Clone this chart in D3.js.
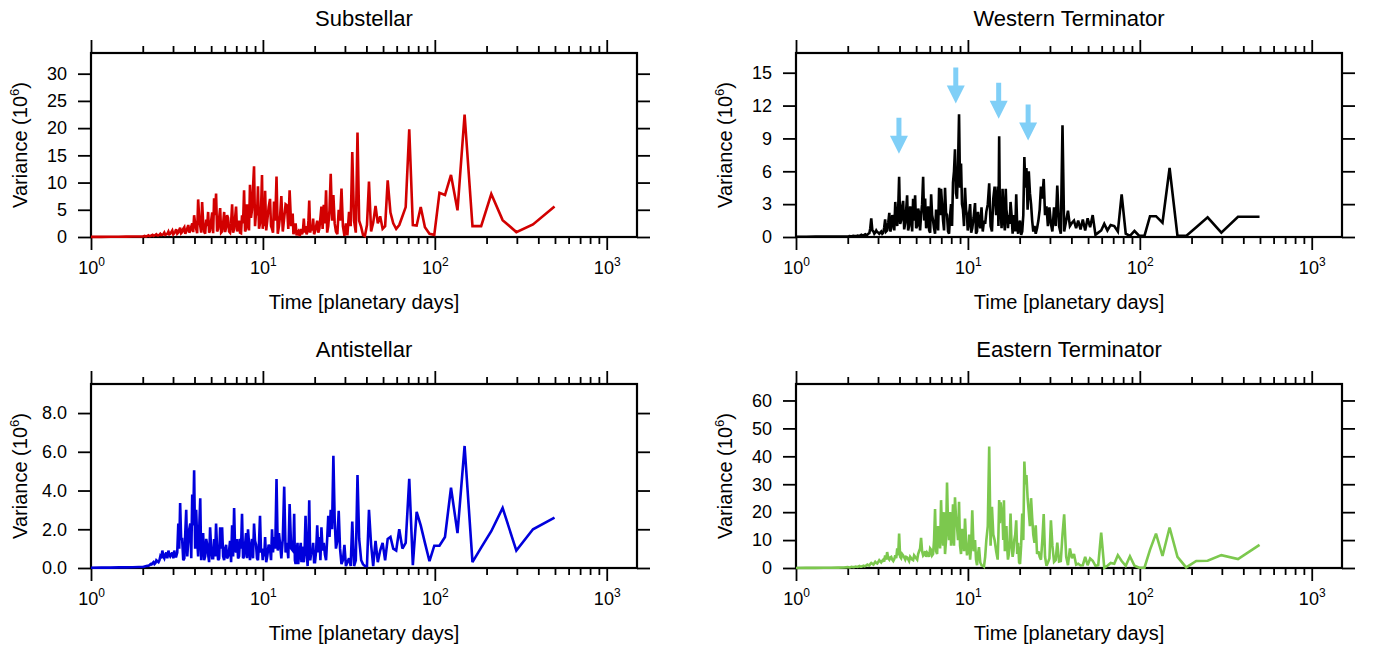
<!DOCTYPE html>
<html>
<head>
<meta charset="utf-8">
<script src="https://cdn.jsdelivr.net/npm/d3@7"></script>
<style>
  body { margin: 0; background: #fff; }
  svg { display: block; font-family: "Liberation Sans", Arial, Helvetica, sans-serif; }
</style>
</head>
<body>
<div id="chart"></div>
<script>
const svgWidth = 1374;
const svgHeight = 652;
const plotWidth = 546;
const plotHeight = 184;
const xDomain = [1, 1500];
const majorTick = 13;
const minorTick = 7;

// Period of each spectral estimate [planetary days], shared by all four panels
const periods = [
  1.0, 1.15, 1.3, 1.45, 1.6, 1.75, 1.9,
  2.00, 2.05, 2.10, 2.16, 2.22, 2.28, 2.34, 2.40, 2.47, 2.53,
  2.60, 2.67, 2.74, 2.82, 2.89, 2.97, 3.05, 3.13, 3.22, 3.30,
  3.39, 3.49, 3.58, 3.68, 3.78, 3.88, 3.98, 4.09, 4.20, 4.32,
  4.43, 4.55, 4.68, 4.80, 4.93, 5.07, 5.20, 5.34, 5.49, 5.64,
  5.79, 5.95, 6.11, 6.27, 6.44, 6.62, 6.80, 6.98, 7.17, 7.36,
  7.56, 7.77, 7.98, 8.19, 8.41, 8.64, 8.88, 9.12, 9.36, 9.62,
  9.88, 10.07, 10.3, 10.6, 11.0, 11.3, 11.6, 12.0, 12.4, 12.8, 13.3,
  13.8, 14.3, 14.9, 15.2, 15.5, 15.9, 16.2, 16.6, 16.9, 17.3,
  17.7, 18.2, 18.6, 19.1, 19.6, 20.1, 20.7, 21.3, 21.9, 22.6,
  23.3, 24.0, 24.8, 25.7, 26.6, 27.6, 28.65, 29.8,
  30.4, 31.0, 31.7, 32.4, 33.1, 33.9, 34.7, 35.5, 36.3, 37.3,
  38.2, 39.2, 40.3, 41.4, 42.6, 43.8, 45.2, 46.6, 48.1, 49.7,
  51.4, 53.2, 55.2, 57.3, 59.6, 62.1, 64.8, 67.7, 71.0, 74.5,
  78.4, 82.8, 87.6, 93.1, 99.3,
  106.4, 114.6, 124.2, 135.5, 149, 165.6, 186, 213, 248, 298, 372.5, 497
];

// Extra estimates in the dense short-period band (between the periods above)
const fillPeriods = [
  2.025, 2.075, 2.13, 2.19, 2.25, 2.31, 2.37, 2.435, 2.50, 2.565,
  2.635, 2.705, 2.78, 2.855, 2.93, 3.01, 3.09, 3.175, 3.26, 3.345,
  3.44, 3.535, 3.63, 3.73, 3.83, 3.93, 4.035, 4.145, 4.26, 4.375,
  4.49, 4.615, 4.74, 4.865, 5.0, 5.135, 5.27, 5.415, 5.565, 5.715,
  5.87, 6.03, 6.19, 6.355, 6.53, 6.71, 6.89, 7.075, 7.265, 7.46,
  7.665, 7.875, 8.085, 8.30, 8.525, 8.76, 9.0, 9.24, 9.49, 9.75,
  9.975, 10.18, 10.45, 10.8, 11.15, 11.45, 11.8, 12.2, 12.6, 13.05, 13.55,
  14.05, 14.6, 15.05, 15.35, 15.7, 16.05, 16.4, 16.75, 17.1, 17.5,
  17.95, 18.4, 18.85, 19.35, 19.85, 20.4, 21.0, 21.6, 22.25, 22.95,
  23.65, 24.4, 25.25, 26.15, 27.1, 28.1, 29.2
];

// Variance (10^6)
const substellar = [
  0.02, 0.03, 0.04, 0.05, 0.06, 0.08, 0.1,
  0.1, 0.2, 0.1, 0.3, 0.2, 0.4, 0.3, 0.5, 0.3, 0.6,
  0.4, 0.8, 0.5, 1.0, 0.6, 1.2, 0.7, 1.4, 0.8, 1.7,
  0.9, 1.8, 1.0, 2.2, 1.2, 2.5, 4.0, 1.5, 6.9, 2.0,
  6.4, 1.0, 3.2, 4.6, 1.2, 4.5, 7.1, 8.0, 1.5, 5.3,
  1.0, 4.6, 1.8, 3.5, 0.8, 6.0, 1.5, 5.6, 1.8, 0.8,
  4.0, 8.6, 1.5, 3.0, 9.6, 5.0, 13.0, 4.5, 9.3, 2.5,
  11.4, 4.0, 8.5, 3.0, 7.0, 1.5, 6.5, 11.1, 2.0, 7.5, 3.5,
  5.8, 8.6, 4.3, 1.0, 2.5, 0.8, 0.5, 1.5, 0.5, 3.4,
  2.0, 1.0, 6.7, 2.0, 3.4, 1.0, 3.0, 1.5, 5.6, 5.9,
  8.6, 2.0, 11.6, 7.7, 1.0, 5.0, 8.9, 0.2,
  2.5, 0.3, 4.6, 2.0, 15.6, 3.0, 0.8, 19.2, 3.0, 1.8,
  0.4, 0.2, 2.2, 10.2, 1.0, 2.6, 5.7, 2.5, 3.8, 1.5,
  2.0, 10.4, 4.5, 2.5, 1.5, 2.2, 3.8, 5.5, 19.8, 2.2,
  2.1, 5.5, 1.8, 0.6, 0.4,
  8.1, 7.7, 11.4, 4.9, 22.5, 2.0, 2.0, 7.9, 3.1, 0.9, 2.3, 5.6
];
const substellarFill = [
  0.15, 0.1, 0.2, 0.15, 0.3, 0.2, 0.35, 0.3, 0.4, 0.35,
  0.5, 0.4, 0.6, 0.5, 0.9, 0.5, 1.0, 0.6, 1.3, 0.7,
  1.5, 0.6, 1.6, 0.8, 1.9, 0.9, 2.5, 0.7, 3.5, 0.8,
  2.8, 0.6, 2.0, 0.8, 3.0, 0.7, 4.0, 1.0, 3.5, 0.8,
  2.5, 0.9, 4.0, 1.0, 2.5, 0.8, 3.5, 1.0, 3.0, 0.7,
  2.5, 1.0, 6.0, 1.2, 3.5, 9.0, 2.0, 4.0, 1.5, 5.0,
  1.5, 2.0, 1.2, 5.5, 2.0, 0.8, 3.0, 0.6, 4.0, 1.0, 6.0,
  1.5, 2.0, 0.5, 1.5, 0.3, 1.0, 0.2, 0.8, 1.2, 0.8,
  0.5, 3.0, 0.8, 1.2, 0.5, 2.0, 0.8, 3.5, 1.5, 2.5,
  0.8, 5.0, 3.0, 2.5, 0.5, 3.0, 2.0
];

const westernTerminator = [
  0.02, 0.02, 0.03, 0.03, 0.04, 0.05, 0.05,
  0.05, 0.08, 0.05, 0.1, 0.08, 0.12, 0.1, 0.2, 0.12, 0.25,
  0.2, 0.35, 1.7, 0.5, 0.4, 0.45, 0.3, 0.5, 0.4, 1.6,
  0.6, 2.2, 0.8, 1.5, 3.2, 1.0, 5.5, 1.5, 3.3, 1.3,
  3.8, 1.0, 2.0, 3.5, 3.8, 1.0, 2.2, 2.0, 5.5, 3.5,
  1.2, 0.6, 3.9, 1.5, 0.3, 1.5, 4.5, 4.4, 1.5, 4.5,
  2.0, 0.3, 3.0, 5.0, 8.0, 3.5, 11.2, 6.7, 2.5, 4.5,
  2.0, 1.0, 3.0, 0.8, 3.1, 0.5, 1.5, 2.7, 1.5, 2.3, 4.9,
  0.5, 4.6, 4.6, 9.2, 2.5, 4.4, 1.5, 4.4, 2.0, 2.0,
  3.2, 0.3, 2.0, 3.9, 0.3, 1.5, 0.5, 7.3, 6.3, 6.0,
  3.0, 0.5, 0.3, 1.5, 4.6, 5.3, 2.8, 2.7,
  1.2, 0.5, 2.7, 1.0, 4.7, 1.0, 0.3, 10.2, 0.5, 1.5,
  2.4, 1.0, 1.3, 1.5, 0.8, 1.5, 0.7, 1.6, 0.6, 1.7,
  0.9, 2.0, 0.2, 0.4, 0.6, 1.2, 0.6, 1.1, 1.0, 0.5,
  3.9, 0.3, 0.1, 0.55, 0.1,
  0.1, 1.9, 1.9, 1.3, 6.3, 0.1, 0.1, 0.9, 1.8, 0.4, 1.85, 1.85
];
const westernTerminatorFill = [
  0.06, 0.07, 0.08, 0.09, 0.1, 0.11, 0.15, 0.15, 0.2, 0.2,
  0.3, 0.8, 0.6, 0.3, 0.6, 0.4, 0.4, 0.3, 0.9, 0.5,
  1.3, 0.5, 2.0, 0.6, 1.8, 2.5, 1.2, 2.8, 0.7, 2.5,
  0.6, 2.8, 0.5, 1.5, 0.8, 2.6, 0.6, 3.0, 1.5, 0.8,
  2.8, 0.4, 2.0, 0.8, 2.5, 0.6, 2.0, 3.0, 0.6, 2.2,
  0.5, 2.0, 1.0, 6.0, 4.0, 6.5, 4.5, 3.0, 1.0, 2.5,
  0.6, 2.2, 0.4, 1.8, 0.3, 2.3, 0.8, 0.5, 1.2, 3.0, 1.0,
  3.5, 2.0, 1.0, 2.0, 0.8, 3.0, 0.6, 2.5, 0.8, 1.2,
  2.0, 1.2, 0.5, 1.0, 1.2, 0.2, 2.0, 4.5, 2.5, 4.0,
  1.5, 1.0, 0.8, 2.5, 3.5, 2.0, 1.0
];

const antistellar = [
  0.01, 0.02, 0.02, 0.03, 0.03, 0.04, 0.05,
  0.05, 0.08, 0.1, 0.12, 0.2, 0.25, 0.2, 0.4, 0.3, 0.6,
  0.9, 0.5, 0.8, 0.9, 0.6, 0.8, 0.9, 0.6, 2.3, 3.35,
  1.5, 0.5, 3.0, 1.4, 2.3, 3.8, 5.05, 3.0, 0.6, 3.6,
  1.5, 0.4, 1.5, 0.7, 2.1, 0.5, 1.5, 2.3, 0.4, 2.1,
  2.1, 0.4, 1.2, 0.6, 1.4, 2.2, 3.1, 0.8, 0.5, 1.5,
  2.8, 0.6, 1.8, 2.0, 0.4, 1.5, 2.3, 1.2, 0.4, 2.7,
  1.0, 1.0, 1.6, 0.6, 1.0, 2.0, 1.6, 4.6, 1.8, 0.5, 4.2,
  1.3, 3.3, 0.9, 2.8, 0.2, 1.3, 0.6, 1.3, 1.1, 0.3,
  2.7, 0.1, 3.5, 0.8, 1.3, 0.3, 2.2, 1.6, 2.1, 1.3,
  0.4, 2.7, 3.0, 5.8, 1.0, 2.95, 0.2, 1.2,
  0.1, 0.3, 0.5, 0.1, 2.4, 0.1, 0.4, 4.8, 1.5, 0.4,
  0.2, 0.1, 0.1, 3.0, 1.2, 0.1, 1.4, 0.3, 0.9, 1.3,
  0.4, 1.5, 1.6, 1.0, 0.9, 2.0, 1.0, 1.3, 4.6, 0.15,
  2.9, 2.2, 1.3, 0.35, 1.15,
  1.15, 1.6, 4.15, 1.8, 6.3, 0.3, 1.05, 1.9, 3.1, 0.9, 2.0, 2.6
];
const antistellarFill = [
  0.06, 0.09, 0.11, 0.15, 0.18, 0.3, 0.25, 0.35, 0.4, 0.5,
  0.6, 0.7, 0.5, 0.7, 0.7, 0.5, 0.6, 0.8, 1.0, 1.5,
  0.4, 1.8, 0.6, 2.0, 0.5, 2.2, 1.0, 1.5, 2.0, 0.4,
  1.8, 0.6, 1.2, 0.3, 1.0, 0.5, 0.6, 1.0, 0.5, 1.0,
  0.6, 1.0, 0.5, 0.9, 0.3, 0.6, 1.0, 1.5, 0.6, 1.0,
  0.5, 1.2, 0.5, 1.3, 1.0, 0.5, 1.4, 0.5, 1.3, 0.8,
  0.4, 0.6, 0.3, 1.2, 0.4, 0.8, 1.0, 0.9, 1.2, 1.5, 0.8,
  0.5, 1.0, 1.2, 0.4, 0.8, 0.2, 0.9, 0.3, 0.5, 1.0,
  0.9, 1.2, 0.4, 0.7, 0.3, 0.9, 0.8, 0.4, 0.9, 0.7,
  1.5, 1.6, 2.0, 2.5, 1.4, 1.0, 0.4
];

const easternTerminator = [
  0.02, 0.03, 0.05, 0.07, 0.1, 0.15, 0.2,
  0.3, 0.2, 0.4, 0.3, 0.5, 0.4, 0.7, 0.5, 0.8, 0.7,
  1.2, 0.9, 1.8, 1.2, 2.2, 1.6, 2.8, 2.0, 3.0, 4.5,
  5.7, 3.0, 4.0, 2.5, 4.5, 7.0, 12.3, 3.5, 4.5, 3.0,
  3.8, 2.5, 3.5, 2.8, 4.0, 3.0, 6.0, 10.8, 4.5, 6.0,
  5.5, 4.0, 6.5, 5.0, 21.1, 5.0, 12.0, 24.3, 8.0, 5.0,
  30.6, 10.0, 8.0, 22.8, 25.3, 15.0, 23.7, 5.0, 11.0, 17.7,
  4.5, 5.0, 3.0, 20.7, 10.0, 1.0, 7.5, 1.0, 0.5, 10.0, 43.5,
  21.9, 10.0, 3.0, 24.3, 23.5, 18.0, 24.3, 12.0, 8.0, 5.0,
  19.5, 4.0, 10.0, 17.1, 9.0, 1.5, 19.5, 38.1, 33.3, 20.0,
  25.0, 12.0, 15.3, 6.0, 3.0, 19.3, 0.8, 3.4,
  17.1, 8.0, 2.2, 2.8, 9.1, 2.3, 2.5, 12.0, 19.2, 4.0,
  1.0, 7.0, 3.5, 5.0, 1.2, 1.5, 0.9, 1.0, 4.0, 1.0,
  3.4, 2.6, 0.8, 1.0, 12.7, 0.1, 0.8, 1.8, 1.5, 4.6,
  2.5, 0.8, 4.2, 0.8, 0.1,
  0.1, 6.5, 12.3, 4.3, 14.5, 4.0, 0.2, 2.5, 2.6, 4.6, 3.2, 8.3
];
const easternTerminatorFill = [
  0.25, 0.3, 0.35, 0.4, 0.45, 0.55, 0.5, 0.65, 0.6, 0.9,
  1.0, 1.4, 1.5, 1.7, 1.8, 2.2, 2.4, 2.6, 2.3, 3.0,
  3.5, 3.8, 3.0, 3.2, 3.5, 4.5, 4.0, 5.0, 3.8, 4.0,
  3.2, 4.0, 3.0, 4.5, 3.5, 5.0, 7.0, 6.0, 5.0, 4.0,
  5.0, 7.0, 4.5, 10.0, 6.0, 15.0, 7.0, 12.0, 20.0, 10.0,
  15.0, 20.0, 12.0, 8.0, 18.0, 10.0, 8.0, 14.0, 6.0, 10.0,
  8.0, 12.0, 8.0, 6.0, 3.0, 5.0, 2.0, 0.8, 4.0, 15.0, 8.0,
  12.0, 6.0, 12.0, 16.0, 20.0, 10.0, 6.0, 15.0, 3.0, 10.0,
  8.0, 6.0, 12.0, 5.0, 2.0, 8.0, 10.0, 30.0, 25.0, 15.0,
  18.0, 9.0, 5.0, 4.0, 10.0, 4.0, 2.0
];

const panelTitles = ["Substellar", "Western Terminator", "Antistellar", "Eastern Terminator"];
const panelSeries = [substellar, westernTerminator, antistellar, easternTerminator];
const panelFills = [substellarFill, westernTerminatorFill, antistellarFill, easternTerminatorFill];
const lineColors = ["#d20000", "#000000", "#0000dc", "#7cc84e"];
const yMaxes = [33.8, 16.8, 9.5, 65.9];
const yTicks = [
  [0, 5, 10, 15, 20, 25, 30],
  [0, 3, 6, 9, 12, 15],
  [0, 2, 4, 6, 8],
  [0, 10, 20, 30, 40, 50, 60]
];
const yTickFormats = ["d", "d", ".1f", "d"];

// Arrows marking peaks in the western terminator panel
const arrowPeriods = [3.97, 8.5, 15.1, 22.4];
const arrowTips = [7.6, 12.2, 10.8, 8.8];
const arrowColor = "#80cff7";

// Panel origins (top-left corner of each plot box)
const panelLefts = [91, 796, 91, 796];
const panelTops = [53, 53, 384, 384];

function buildSeries(values, fillValues) {
  let pts = periods.map((p, i) => ({ period: p, value: values[i] }))
    .concat(fillPeriods.map((p, i) => ({ period: p, value: fillValues[i] })));
  return pts.sort((a, b) => a.period - b.period);
}

function addExponentLabel(textSel, base, exponent, supSize, supShift) {
  textSel.text(base);
  textSel.append("tspan")
    .attr("dy", -supShift)
    .style("font-size", `${supSize}px`)
    .text(exponent);
}

function drawXAxes(g, x) {
  let allTicks = x.ticks();
  let majors = allTicks.filter(d => Math.abs(Math.log10(d) - Math.round(Math.log10(d))) < 1e-9);
  let minors = allTicks.filter(d => majors.indexOf(d) < 0);

  // Top axis: ticks only
  g.append("g")
    .call(d3.axisTop(x).tickValues(minors).tickSize(minorTick).tickFormat(""));
  g.append("g")
    .call(d3.axisTop(x).tickValues(majors).tickSize(majorTick).tickFormat(""));

  // Bottom axis: ticks and 10^n labels
  g.append("g")
    .attr("transform", `translate(0,${plotHeight})`)
    .call(d3.axisBottom(x).tickValues(minors).tickSize(minorTick).tickFormat(""));
  let bottom = g.append("g")
    .attr("transform", `translate(0,${plotHeight})`)
    .call(d3.axisBottom(x).tickValues(majors).tickSize(majorTick).tickFormat(""));

  bottom.selectAll(".tick text").remove();
  bottom.selectAll(".tick").append("text")
    .attr("y", 37)
    .attr("fill", "#000")
    .attr("text-anchor", "middle")
    .style("font-size", "18px")
    .each(function (d) {
      addExponentLabel(d3.select(this), "10", String(Math.round(Math.log10(d))), 12, 8);
    });
}

function drawYAxes(g, y, idx) {
  let fmt = d3.format(yTickFormats[idx]);
  g.append("g")
    .call(d3.axisLeft(y).tickValues(yTicks[idx]).tickSize(majorTick).tickPadding(11).tickFormat(fmt))
    .selectAll("text")
    .attr("fill", "#000")
    .style("font-size", "18px");
  g.append("g")
    .attr("transform", `translate(${plotWidth},0)`)
    .call(d3.axisRight(y).tickValues(yTicks[idx]).tickSize(majorTick).tickFormat(""));
}

function drawArrows(g, x, y) {
  let shaft = 2.5, headHalf = 9, headLen = 18, total = 36;
  arrowPeriods.forEach(function (p, i) {
    let tx = x(p);
    let ty = y(arrowTips[i]);
    let pts = [
      [tx - shaft, ty - total], [tx + shaft, ty - total], [tx + shaft, ty - headLen],
      [tx + headHalf, ty - headLen], [tx, ty], [tx - headHalf, ty - headLen],
      [tx - shaft, ty - headLen]
    ];
    g.append("path")
      .attr("d", "M" + pts.map(q => q.join(",")).join("L") + "Z")
      .attr("fill", arrowColor);
  });
}

function drawPanel(svg, idx) {
  let g = svg.append("g")
    .attr("transform", `translate(${panelLefts[idx]},${panelTops[idx]})`);

  let x = d3.scaleLog().domain(xDomain).range([0, plotWidth]);
  let y = d3.scaleLinear().domain([0, yMaxes[idx]]).range([plotHeight, 0]);

  drawXAxes(g, x);
  drawYAxes(g, y, idx);
  g.selectAll(".domain").remove();
  g.selectAll(".tick line").attr("stroke", "#000").attr("stroke-width", 1.8);

  // Frame
  g.append("rect")
    .attr("width", plotWidth)
    .attr("height", plotHeight)
    .attr("fill", "none")
    .attr("stroke", "#000")
    .attr("stroke-width", 2.2);

  // Series line
  let data = buildSeries(panelSeries[idx], panelFills[idx]);
  let line = d3.line()
    .x(d => x(d.period))
    .y(d => y(d.value));
  g.append("path")
    .datum(data)
    .attr("d", line)
    .attr("fill", "none")
    .attr("stroke", lineColors[idx])
    .attr("stroke-width", 2.6)
    .attr("stroke-linejoin", "miter")
    .attr("stroke-miterlimit", 3);

  if (idx === 1) drawArrows(g, x, y);

  // Titles
  g.append("text")
    .attr("x", plotWidth / 2)
    .attr("y", -27)
    .attr("text-anchor", "middle")
    .style("font-size", "22px")
    .text(panelTitles[idx]);

  g.append("text")
    .attr("x", plotWidth / 2)
    .attr("y", plotHeight + 72)
    .attr("text-anchor", "middle")
    .style("font-size", "20px")
    .text("Time [planetary days]");

  let yTitle = g.append("text")
    .attr("transform", `translate(-64,${plotHeight / 2}) rotate(-90)`)
    .attr("text-anchor", "middle")
    .style("font-size", "20px")
    .text("Variance (10");
  yTitle.append("tspan").attr("dy", -8).style("font-size", "13px").text("6");
  yTitle.append("tspan").attr("dy", 8).text(")");
}

let svg = d3.select("#chart").append("svg")
  .attr("width", svgWidth)
  .attr("height", svgHeight);

for (let i = 0; i < panelTitles.length; i++) {
  drawPanel(svg, i);
}
</script>
</body>
</html>
